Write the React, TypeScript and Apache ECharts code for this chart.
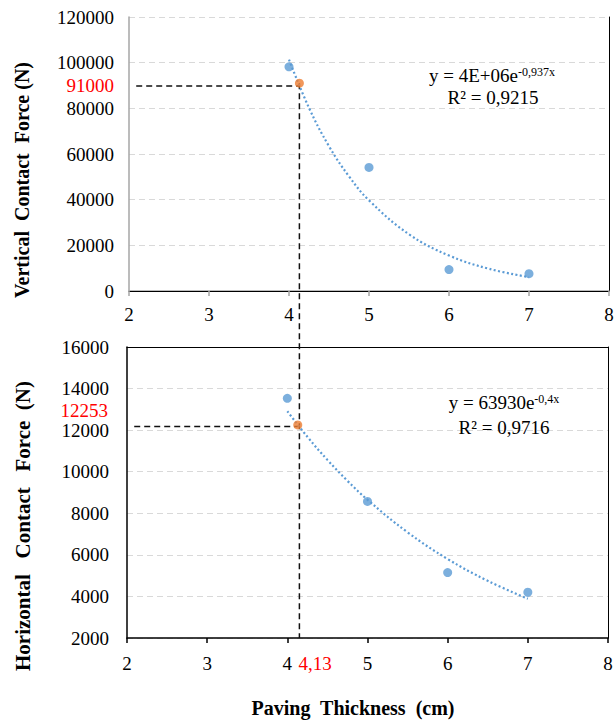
import React, { useEffect, useRef } from "react";
import * as echarts from "echarts";

// ---- data ----
const thickness = [4, 5, 6, 7];
const verticalForce = [98200, 54100, 9400, 7600];
const horizontalForce = [13530, 8570, 5150, 4200];

const targetThickness = 4.13;
const targetVertical = 91000;
const targetHorizontal = 12253;

const trendThickness = [4, 4.25, 4.5, 4.75, 5, 5.5, 6, 6.5, 7];
const verticalTrend = [101300, 80200, 63400, 50200, 39700, 24840, 15540, 9730, 6090];
const horizontalTrend = [12910, 11680, 10570, 9560, 8650, 7085, 5800, 4750, 3890];

const verticalGuideLevel = 89800;
const horizontalGuideLevel = 12180;
const guideStart = 2.09;

const xTicks = [2, 3, 4, 5, 6, 7, 8];
const verticalTicks = [0, 20000, 40000, 60000, 80000, 100000, 120000];
const horizontalTicks = [2000, 4000, 6000, 8000, 10000, 12000, 14000, 16000];

const verticalEq = ["y = 4E+06e", "-0,937x", "R² = 0,9215"];
const horizontalEq = ["y = 63930e", "-0,4x", "R² = 0,9716"];

const SERIF = "Liberation Serif";
const BLUE = "#5b9bd5";
const ORANGE = "#ed7d31";
const GRAY = "#a6a6a6";

export default function App() {
  const ref = useRef<HTMLDivElement>(null);

  useEffect(() => {
    if (!ref.current) return;
    const chart = echarts.init(ref.current, null, { renderer: "svg" });

    const split = { show: true, lineStyle: { color: "#d9d9d9", type: [6, 4] as any, width: 1 } };
    const noLabel = { show: false };

    const option: any = {
      animation: false,
      backgroundColor: "#fff",
      grid: [
        { left: 129, top: 17, right: 5, height: 274 },
        { left: 127, top: 347, right: 6, height: 291 },
      ],
      xAxis: [
        {
          gridIndex: 0, type: "value", min: xTicks[0], max: xTicks[xTicks.length - 1], interval: 1,
          axisLine: { show: true, lineStyle: { color: GRAY, width: 1.5 } },
          axisTick: { show: true, length: 5, lineStyle: { color: GRAY, width: 1.5 } },
          axisLabel: noLabel,
          splitLine: { show: false },
        },
        {
          gridIndex: 0, type: "value", position: "top", min: 2, max: 8, interval: 1,
          axisLine: { show: true, lineStyle: { color: "#000", width: 1 } },
          axisTick: { show: false }, axisLabel: noLabel, splitLine: { show: false },
        },
        {
          gridIndex: 1, type: "value", min: xTicks[0], max: xTicks[xTicks.length - 1], interval: 1,
          axisLine: { show: true, lineStyle: { color: "#000", width: 1.5 } },
          axisTick: { show: true, length: 5, lineStyle: { color: "#000", width: 1.5 } },
          axisLabel: noLabel,
          splitLine: { show: false },
        },
        {
          gridIndex: 1, type: "value", position: "top", min: 2, max: 8, interval: 1,
          axisLine: { show: true, lineStyle: { color: "#000", width: 1 } },
          axisTick: { show: false }, axisLabel: noLabel, splitLine: { show: false },
        },
      ],
      yAxis: [
        {
          gridIndex: 0, type: "value", min: verticalTicks[0], max: verticalTicks[verticalTicks.length - 1], interval: 20000,
          axisLine: { show: true, lineStyle: { color: GRAY, width: 1.5 } },
          axisTick: { show: false },
          axisLabel: noLabel,
          splitLine: split,
        },
        {
          gridIndex: 0, type: "value", position: "right", min: 0, max: 120000, interval: 20000,
          axisLine: { show: true, lineStyle: { color: "#000", width: 1 } },
          axisTick: { show: false }, axisLabel: noLabel, splitLine: { show: false },
        },
        {
          gridIndex: 1, type: "value", min: horizontalTicks[0], max: horizontalTicks[horizontalTicks.length - 1], interval: 2000,
          axisLine: { show: true, lineStyle: { color: "#000", width: 1.5 } },
          axisTick: { show: false },
          axisLabel: noLabel,
          splitLine: split,
        },
        {
          gridIndex: 1, type: "value", position: "right", min: 2000, max: 16000, interval: 2000,
          axisLine: { show: true, lineStyle: { color: "#000", width: 1 } },
          axisTick: { show: false }, axisLabel: noLabel, splitLine: { show: false },
        },
      ],
      series: [
        {
          type: "line", xAxisIndex: 0, yAxisIndex: 0, symbol: "none", z: 3,
          data: [[guideStart, verticalGuideLevel], [targetThickness, verticalGuideLevel]],
          lineStyle: { color: "#111", width: 1.5, type: [6, 4] },
        },
        {
          type: "line", xAxisIndex: 2, yAxisIndex: 2, symbol: "none", z: 3,
          data: [[guideStart, horizontalGuideLevel], [targetThickness, horizontalGuideLevel]],
          lineStyle: { color: "#111", width: 1.5, type: [6, 4] },
        },
        {
          type: "line", xAxisIndex: 0, yAxisIndex: 0, symbol: "none", smooth: 0.4, z: 4,
          data: trendThickness.map((x, i) => [x, verticalTrend[i]]),
          lineStyle: { color: BLUE, width: 2.2, type: [2, 2.4] },
        },
        {
          type: "line", xAxisIndex: 2, yAxisIndex: 2, symbol: "none", smooth: 0.4, z: 4,
          data: trendThickness.map((x, i) => [x, horizontalTrend[i]]),
          lineStyle: { color: BLUE, width: 2.2, type: [2, 2.4] },
        },
        {
          type: "scatter", xAxisIndex: 0, yAxisIndex: 0, symbolSize: 9, z: 5,
          itemStyle: { color: BLUE },
          data: thickness.map((x, i) => [x, verticalForce[i]]),
        },
        {
          type: "scatter", xAxisIndex: 2, yAxisIndex: 2, symbolSize: 9, z: 5,
          itemStyle: { color: BLUE },
          data: thickness.map((x, i) => [x, horizontalForce[i]]),
        },
        {
          type: "scatter", xAxisIndex: 0, yAxisIndex: 0, symbolSize: 9, z: 6,
          itemStyle: { color: ORANGE },
          data: [[targetThickness, targetVertical]],
        },
        {
          type: "scatter", xAxisIndex: 2, yAxisIndex: 2, symbolSize: 9, z: 6,
          itemStyle: { color: ORANGE },
          data: [[targetThickness, targetHorizontal]],
        },
      ],
    };
    chart.setOption(option);

    const px = (axis: number, p: number[]) =>
      chart.convertToPixel({ xAxisIndex: axis, yAxisIndex: axis }, p) as number[];

    const top = px(0, [targetThickness, targetVertical]);
    const bot = px(2, [targetThickness, horizontalTicks[0]]);
    const vGuide = px(0, [2, verticalGuideLevel]);
    const hGuide = px(2, [2, horizontalGuideLevel]);

    const tickFont = `19px ${SERIF}`;
    const tickTexts: any[] = [];
    // x tick labels, both panels
    xTicks.forEach((t) => {
      const a = px(0, [t, verticalTicks[0]]);
      tickTexts.push({
        type: "text", x: a[0], y: a[1] + 14,
        style: { text: String(t), fill: "#000", font: tickFont, align: "center", verticalAlign: "top" },
      });
      const b = px(2, [t, horizontalTicks[0]]);
      tickTexts.push({
        type: "text", x: b[0], y: b[1] + 16,
        style: { text: String(t), fill: "#000", font: tickFont, align: "center", verticalAlign: "top" },
      });
    });
    verticalTicks.forEach((t) => {
      const a = px(0, [xTicks[0], t]);
      tickTexts.push({
        type: "text", x: a[0] - 15, y: a[1],
        style: { text: String(t), fill: "#000", font: tickFont, align: "right", verticalAlign: "middle" },
      });
    });
    horizontalTicks.forEach((t) => {
      const a = px(2, [xTicks[0], t]);
      tickTexts.push({
        type: "text", x: a[0] - 18, y: a[1],
        style: { text: String(t), fill: "#000", font: tickFont, align: "right", verticalAlign: "middle" },
      });
    });

    const eqRich = {
      b: { fontSize: 19, fontFamily: SERIF, color: "#000", verticalAlign: "middle" },
      s: { fontSize: 12, fontFamily: SERIF, color: "#000", verticalAlign: "top" },
    };

    chart.setOption({
      graphic: [
        ...tickTexts,
        {
          type: "line", z: 3,
          shape: { x1: top[0], y1: top[1], x2: top[0], y2: bot[1] },
          style: { stroke: "#111", lineWidth: 1.5, lineDash: [6, 4] },
        },
        {
          type: "text", x: vGuide[0] - 15, y: vGuide[1],
          style: { text: String(targetVertical), fill: "#ff0000", font: tickFont, align: "right", verticalAlign: "middle" },
        },
        {
          type: "text", x: hGuide[0] - 19, y: hGuide[1] - 16,
          style: { text: String(targetHorizontal), fill: "#ff0000", font: tickFont, align: "right", verticalAlign: "middle" },
        },
        {
          type: "text", x: top[0] - 1, y: bot[1] + 16,
          style: { text: String(targetThickness).replace(".", ","), fill: "#ff0000", font: tickFont, align: "left", verticalAlign: "top" },
        },
        {
          type: "text", x: 492, y: 75,
          style: { text: `{b|${verticalEq[0]}}{s|${verticalEq[1]}}`, rich: eqRich, align: "center", verticalAlign: "middle" },
        },
        {
          type: "text", x: 493, y: 97,
          style: { text: verticalEq[2], fill: "#000", font: tickFont, align: "center", verticalAlign: "middle" },
        },
        {
          type: "text", x: 504, y: 402,
          style: { text: `{b|${horizontalEq[0]}}{s|${horizontalEq[1]}}`, rich: eqRich, align: "center", verticalAlign: "middle" },
        },
        {
          type: "text", x: 504, y: 427,
          style: { text: horizontalEq[2], fill: "#000", font: tickFont, align: "center", verticalAlign: "middle" },
        },
        {
          type: "text", x: 22, y: 180, rotation: Math.PI / 2,
          style: { text: "Vertical  Contact  Force (N)", fill: "#000", font: `bold 20px ${SERIF}`, align: "center", verticalAlign: "middle" },
        },
        {
          type: "text", x: 23, y: 526, rotation: Math.PI / 2,
          style: { text: "Horizontal   Contact   Force  (N)", fill: "#000", font: `bold 21px ${SERIF}`, align: "center", verticalAlign: "middle" },
        },
        {
          type: "text", x: 353, y: 708,
          style: { text: "Paving  Thickness  (cm)", fill: "#000", font: `bold 20px ${SERIF}`, align: "center", verticalAlign: "middle" },
        },
      ],
    });

    return () => chart.dispose();
  }, []);

  return <div ref={ref} style={{ position: "absolute", left: 0, top: 0, width: 614, height: 722 }} />;
}
